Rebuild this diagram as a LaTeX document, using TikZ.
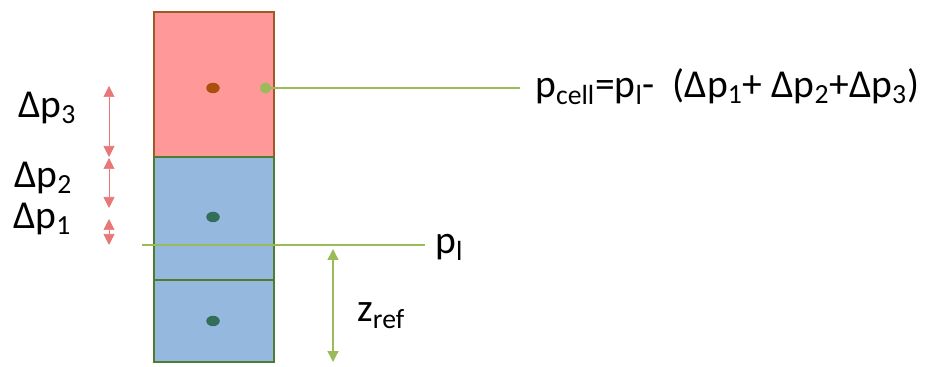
\documentclass[tikz,border=0pt]{standalone}
\usepackage{fontspec}
\setmainfont{Carlito}
\usetikzlibrary{arrows.meta,positioning,shapes.geometric}
\definecolor{cellpink}{RGB}{255,153,153}
\definecolor{cellblue}{RGB}{149,185,222}
\definecolor{edgebrown}{RGB}{160,90,40}
\definecolor{edgegreen}{RGB}{80,125,45}
\definecolor{linegreen}{RGB}{155,187,89}
\definecolor{deltared}{RGB}{232,120,120}
\definecolor{dotbrown}{RGB}{170,80,15}
\definecolor{dotteal}{RGB}{50,110,90}

\begin{document}
\begin{tikzpicture}[x=0.02cm, y=-0.02cm,
    cell/.style={rectangle, draw=edgegreen, line width=1.1pt, fill=cellblue,
        minimum width=2.4cm, inner sep=0pt},
    dot/.style={ellipse, inner sep=0pt, minimum width=2.7mm, minimum height=2.1mm},
    lbl/.style={font=\fontsize{22.5}{26}\selectfont, inner sep=0pt, anchor=base west},
    darr/.style={{Triangle[length=2.2mm,width=2.2mm]}-{Triangle[length=2.2mm,width=2.2mm]}, deltared},
    garr/.style={thick, linegreen}
]
    \useasboundingbox (0,0) rectangle (925,367);
    % column of cells
    \node[cell, draw=edgebrown, fill=cellpink, minimum height=2.9cm] (top) at (214,84.5) {};
    \node[cell, minimum height=2.46cm] (mid) at (214,218.5) {};
    \node[cell, minimum height=1.64cm] (bot) at (214,321) {};

    \node[dot, fill=dotbrown] (ctop) at (213,88) {};
    \node[dot, fill=dotteal] (cmid) at (213,217) {};
    \node[dot, fill=dotteal] (cbot) at (213,321) {};

    % level line
    \coordinate (lvlw) at (142,245);
    \coordinate (lvle) at (425,245);
    \draw[garr] (lvlw) -- (lvle);
    \node[lbl] (pl) at (435,254) {p\textsubscript{l}};

    % pressure of the cell
    \coordinate (tipc) at (260,88);
    \node[lbl] (pcell) at (535,98)
        {p\textsubscript{cell}=p\textsubscript{l}- \ (Δp\textsubscript{1}+ Δp\textsubscript{2}+Δp\textsubscript{3})};
    \draw[garr, -{Circle[length=2.2mm]}] (520,88) -- (tipc);

    % reference height
    \coordinate (zt) at (333,249);
    \coordinate (zb) at (333,362);
    \draw[garr, {Triangle[length=2.2mm,width=2.2mm]}-{Triangle[length=2.2mm,width=2.2mm]}] (zt) -- (zb);
    \node[lbl] (zref) at (357,322) {z\textsubscript{ref}};

    % pressure steps
    \coordinate (d3t) at (109,86);
    \coordinate (d3b) at (109,157);
    \coordinate (d2t) at (109,158);
    \coordinate (d2b) at (109,208);
    \coordinate (d1t) at (109,219);
    \coordinate (d1b) at (109,245);
    \draw[darr] (d3t) -- (d3b);
    \draw[darr] (d2t) -- (d2b);
    \draw[darr] (d1t) -- (d1b);
    \node[lbl] (dp3) at (18,118) {Δp\textsubscript{3}};
    \node[lbl] (dp2) at (14,188) {Δp\textsubscript{2}};
    \node[lbl] (dp1) at (13,229) {Δp\textsubscript{1}};
\end{tikzpicture}
\end{document}
